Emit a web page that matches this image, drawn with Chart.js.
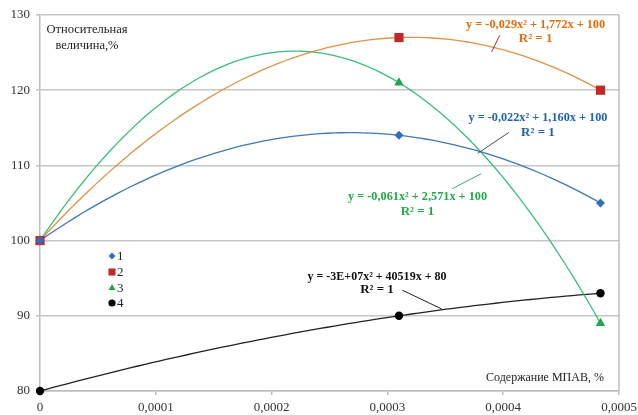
<!DOCTYPE html>
<html>
<head>
<meta charset="utf-8">
<script src="https://cdn.jsdelivr.net/npm/chart.js@4/dist/chart.umd.min.js"></script>
<style>
html,body{margin:0;padding:0;background:#fff;}
#wrap{width:638px;height:415px;position:relative;}
</style>
</head>
<body>
<div id="wrap"><canvas id="c" width="638" height="415"></canvas></div>
<script>
// ---- data ----
const xValues = [0, 0.00031, 0.000484];       // Содержание МПАВ, %
const series1 = [100, 114, 105];
const series2 = [100, 127, 120];
const series3 = [100, 121, 89];
const series4 = [80, 90, 93];
const seriesNames = ['1', '2', '3', '4'];
const yTicks = [80, 90, 100, 110, 120, 130];
const xTicks = [0, 0.0001, 0.0002, 0.0003, 0.0004, 0.0005];
const equations = [
  ['y = -0,022x² + 1,160x + 100', 'R² = 1'],
  ['y = -0,029x² + 1,772x + 100', 'R² = 1'],
  ['y = -0,061x² + 2,571x + 100', 'R² = 1'],
  ['y = -3E+07x² + 40519x + 80', 'R² = 1']
];
const yTitle = ['Относительная', 'величина,%'];
const xTitle = 'Содержание МПАВ, %';

// ---- styles ----
const markerColors = ['#2f6fc0', '#c0282a', '#1ea84a', '#000000'];
const lineColors = ['#3f78b5', '#dc9448', '#3dbd7c', '#222222'];
const textColors = ['#1f62ad', '#e46c0a', '#22a846', '#111111'];
const leaderColors = ['#4a4a6a', '#8a3040', '#3aa860', '#222222'];
const pointStyles = ['rectRot', 'rect', 'triangle', 'circle'];
const pointRadii = [4.5, 6.5, 5.5, 4.2];
const serif = "'Liberation Serif', 'Times New Roman', serif";

// polynomial (order 2) trendline fitted through the data points
function quadFit(xs, ys) {
  return function (x) {
    let s = 0;
    for (let i = 0; i < xs.length; i++) {
      let t = ys[i];
      for (let j = 0; j < xs.length; j++) if (j !== i) t *= (x - xs[j]) / (xs[i] - xs[j]);
      s += t;
    }
    return s;
  };
}
const allSeries = [series1, series2, series3, series4];
function trendPoints(ys) {
  const f = quadFit(xValues, ys);
  const pts = [];
  const x0 = xValues[0], x1 = xValues[xValues.length - 1];
  for (let i = 0; i <= 80; i++) { const x = x0 + (x1 - x0) * i / 80; pts.push({x: x, y: f(x)}); }
  return pts;
}

const datasets = [];
allSeries.forEach((ys, k) => {
  datasets.push({
    label: 'trend ' + seriesNames[k],
    data: trendPoints(ys),
    showLine: true, borderColor: lineColors[k], borderWidth: 1.3,
    pointRadius: 0, fill: false, order: 2, clip: false
  });
});
allSeries.forEach((ys, k) => {
  datasets.push({
    label: seriesNames[k],
    data: xValues.map((x, i) => ({x: x, y: ys[i]})),
    showLine: false, pointStyle: pointStyles[k], pointRadius: pointRadii[k],
    pointBackgroundColor: markerColors[k], pointBorderColor: markerColors[k],
    pointBorderWidth: 0, order: 1, clip: false
  });
});

function fmtX(v) {
  if (Math.abs(v) < 1e-12) return '0';
  return v.toFixed(4).replace('.', ',');
}

const decor = {
  id: 'decor',
  afterDatasetsDraw(chart) {
    const ctx = chart.ctx, xs = chart.scales.x, ys = chart.scales.y, a = chart.chartArea;
    const X = v => xs.getPixelForValue(v), Y = v => ys.getPixelForValue(v);
    ctx.save();
    // right border
    ctx.strokeStyle = '#bdbdbd'; ctx.lineWidth = 1.5;
    ctx.beginPath(); ctx.moveTo(a.right, a.top); ctx.lineTo(a.right, a.bottom); ctx.stroke();

    // axis titles
    ctx.fillStyle = '#222'; ctx.textAlign = 'center'; ctx.textBaseline = 'middle';
    ctx.font = '12.5px ' + serif;
    ctx.fillText(yTitle[0], a.left + 47, a.top + 15);
    ctx.fillText(yTitle[1], a.left + 47, a.top + 31);
    ctx.font = '12px ' + serif;
    ctx.fillText(xTitle, a.left + 505, a.bottom - 13);

    // equations + leader lines (positions in data units)
    const eqPos = [
      {x: 0.000430, y1: 116.4, y2: 114.4, l: [0.000405, 114.4, 0.000378, 111.6]},
      {x: 0.000428, y1: 128.7, y2: 126.8, l: [0.000397, 127.3, 0.000390, 125.1]},
      {x: 0.000326, y1: 105.8, y2: 103.9, l: [0.000356, 106.9, 0.000381, 108.9]},
      {x: 0.000291, y1: 95.2, y2: 93.5, l: [0.000313, 93.4, 0.000347, 90.9]}
    ];
    eqPos.forEach((p, k) => {
      ctx.strokeStyle = leaderColors[k]; ctx.lineWidth = 1;
      ctx.beginPath(); ctx.moveTo(X(p.l[0]), Y(p.l[1])); ctx.lineTo(X(p.l[2]), Y(p.l[3])); ctx.stroke();
      ctx.fillStyle = textColors[k]; ctx.font = 'bold 13px ' + serif;
      ctx.fillText(equations[k][0], X(p.x), Y(p.y1), 139);
      ctx.fillText(equations[k][1], X(p.x), Y(p.y2));
    });

    // legend inside the plot
    const lx = a.left + 72, ly = [a.top + 241, a.top + 257, a.top + 273, a.top + 288];
    const legR = [3.5, 5, 4, 3.6];
    ctx.font = '13px ' + serif; ctx.textAlign = 'left';
    seriesNames.forEach((n, k) => {
      ctx.fillStyle = markerColors[k];
      ctx.strokeStyle = markerColors[k];
      Chart.helpers.drawPoint(ctx, {pointStyle: pointStyles[k], radius: legR[k], borderWidth: 0, rotation: 0}, lx, ly[k]);
      ctx.fillStyle = '#222';
      ctx.fillText(n, lx + 5, ly[k] + 1);
    });
    ctx.restore();
  }
};

const chart = new Chart(document.getElementById('c'), {
  type: 'scatter',
  data: {datasets: datasets},
  options: {
    responsive: false, animation: false, devicePixelRatio: 1,
    layout: {padding: {top: 15, right: 19, left: 0, bottom: 0}},
    plugins: {legend: {display: false}, tooltip: {enabled: false}},
    scales: {
      x: {
        type: 'linear', min: 0, max: 0.0005,
        afterBuildTicks: s => { s.ticks = xTicks.map(v => ({value: v})); },
        afterFit: s => { s.height = 24; s.paddingRight = 0; },
        ticks: {callback: v => fmtX(v), color: '#333', font: {family: serif, size: 13}, padding: 5, maxRotation: 0},
        grid: {drawOnChartArea: false, color: '#bdbdbd', tickLength: 4, lineWidth: 1.5},
        border: {color: '#bdbdbd', width: 1.5}
      },
      y: {
        min: 80, max: 130,
        afterBuildTicks: s => { s.ticks = yTicks.map(v => ({value: v})); },
        afterFit: s => { s.width = 40; },
        ticks: {color: '#333', font: {family: serif, size: 13}, padding: 6},
        grid: {color: '#c6c6c6', lineWidth: 1.5, tickLength: 4},
        border: {color: '#bdbdbd', width: 1.5}
      }
    }
  },
  plugins: [decor]
});
</script>
</body>
</html>
